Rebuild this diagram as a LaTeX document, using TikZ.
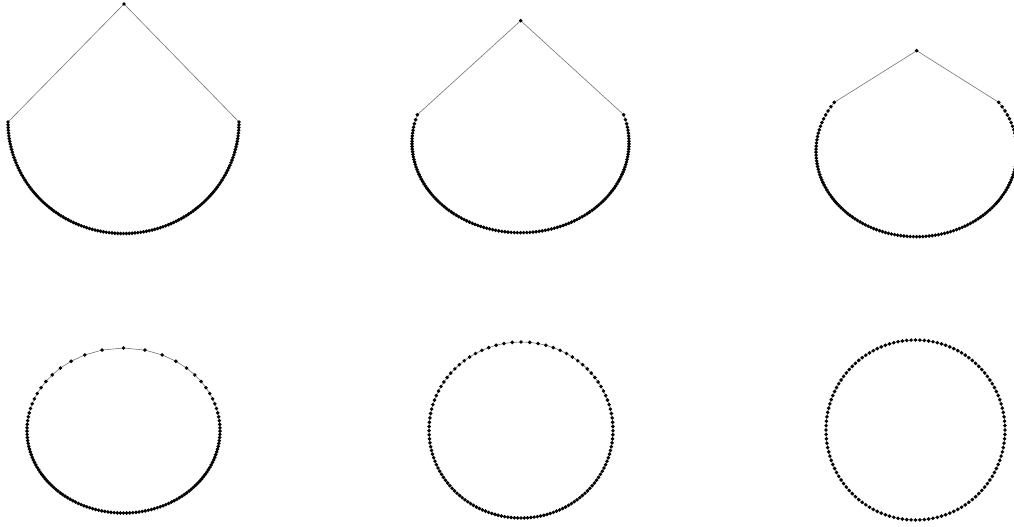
\documentclass[tikz,border=0pt]{standalone}
\tikzset{
  link/.style={draw=black!55, line width=0.6pt},
  dotfill/.style={fill=black},
}
% geometry of a panel: centre, half axes, start angle (from the top)
\newcommand\setpanel[5]{\def\cx{#1}\def\cy{#2}\def\ea{#3}\def\eb{#4}\def\tz{#5}}
% spacing of the points: last index, first step, final step, decay
\newcommand\setdist[4]{\def\J{#1}\def\dz{#2}\def\ff{#3}\def\rr{#4}}
\newcommand\mkcoords[1]{%
  \pgfmathsetmacro\GJ{\ff*\J + (\dz-\ff)*(1-exp(max(\J*ln(\rr),-8)))/(1-\rr)}%
  \pgfmathsetmacro\sc{(180-\tz)/\GJ}%
  \foreach \j in {0,...,\J}{%
    \pgfmathsetmacro\t{\tz + \sc*(\ff*\j + (\dz-\ff)*(1-exp(max(\j*ln(\rr),-8)))/(1-\rr))}%
    \coordinate (#1L\j) at ({\cx-\ea*sin(\t)},{\cy-\eb*cos(\t)});
    \coordinate (#1R\j) at ({\cx+\ea*sin(\t)},{\cy-\eb*cos(\t)});
  }%
}
\newcommand\mklinks[1]{%
  \foreach \j in {1,...,\J}{%
    \pgfmathtruncatemacro\i{\j-1}%
    \draw[link] (#1L\i) -- (#1L\j) (#1R\i) -- (#1R\j);
  }%
}
\newcommand\mkdots[1]{%
  \foreach \j in {0,...,\J}{%
    \fill[dotfill] (#1L\j) circle[radius=1.95pt] (#1R\j) circle[radius=1.95pt];
  }%
}
\begin{document}
\begin{tikzpicture}[x=1pt,y=-1pt]
\useasboundingbox (0,0) rectangle (1014,527);
\clip (0,0) rectangle (1014,527);

% ---- panel 1
\setpanel{123.5}{122}{115.5}{111.5}{90}\setdist{63}{1}{1}{0.5}
\mkcoords{a}
\coordinate (aA) at (124,4);
\draw[link] (aA) -- (aL0) (aA) -- (aR0);
\mklinks{a}\mkdots{a}
\fill[dotfill] (aA) circle[radius=1.95pt];

% ---- panel 2
\setpanel{520.5}{142.6}{108.5}{90.1}{72}\setdist{63}{3.3}{1.65}{0.59}
\mkcoords{b}
\coordinate (bA) at (520.7,20.7);
\draw[link] (bA) -- (bL0) (bA) -- (bR0);
\mklinks{b}\mkdots{b}
\fill[dotfill] (bA) circle[radius=1.95pt];

% ---- panel 3
\setpanel{916.5}{151.4}{100.5}{85.3}{54.9}\setdist{63}{3.5}{1.8}{0.855}
\mkcoords{c}
\coordinate (cA) at (916.7,50.7);
\draw[link] (cA) -- (cL0) (cA) -- (cR0);
\mklinks{c}\mkdots{c}
\fill[dotfill] (cA) circle[radius=1.95pt];

% ---- panel 4
\setpanel{123.5}{430.5}{96.5}{82.5}{0}\setdist{64}{12.4}{1.8}{0.82}
\mkcoords{d}\mklinks{d}\mkdots{d}

% ---- panel 5
\setpanel{521}{430}{92}{88}{0}\setdist{64}{5.2}{1.9}{0.935}
\mkcoords{e}\mklinks{e}\mkdots{e}

% ---- panel 6
\setpanel{915.5}{430}{89.5}{90}{0}\setdist{64}{1}{1}{0.5}
\mkcoords{f}\mklinks{f}\mkdots{f}
\end{tikzpicture}
\end{document}
